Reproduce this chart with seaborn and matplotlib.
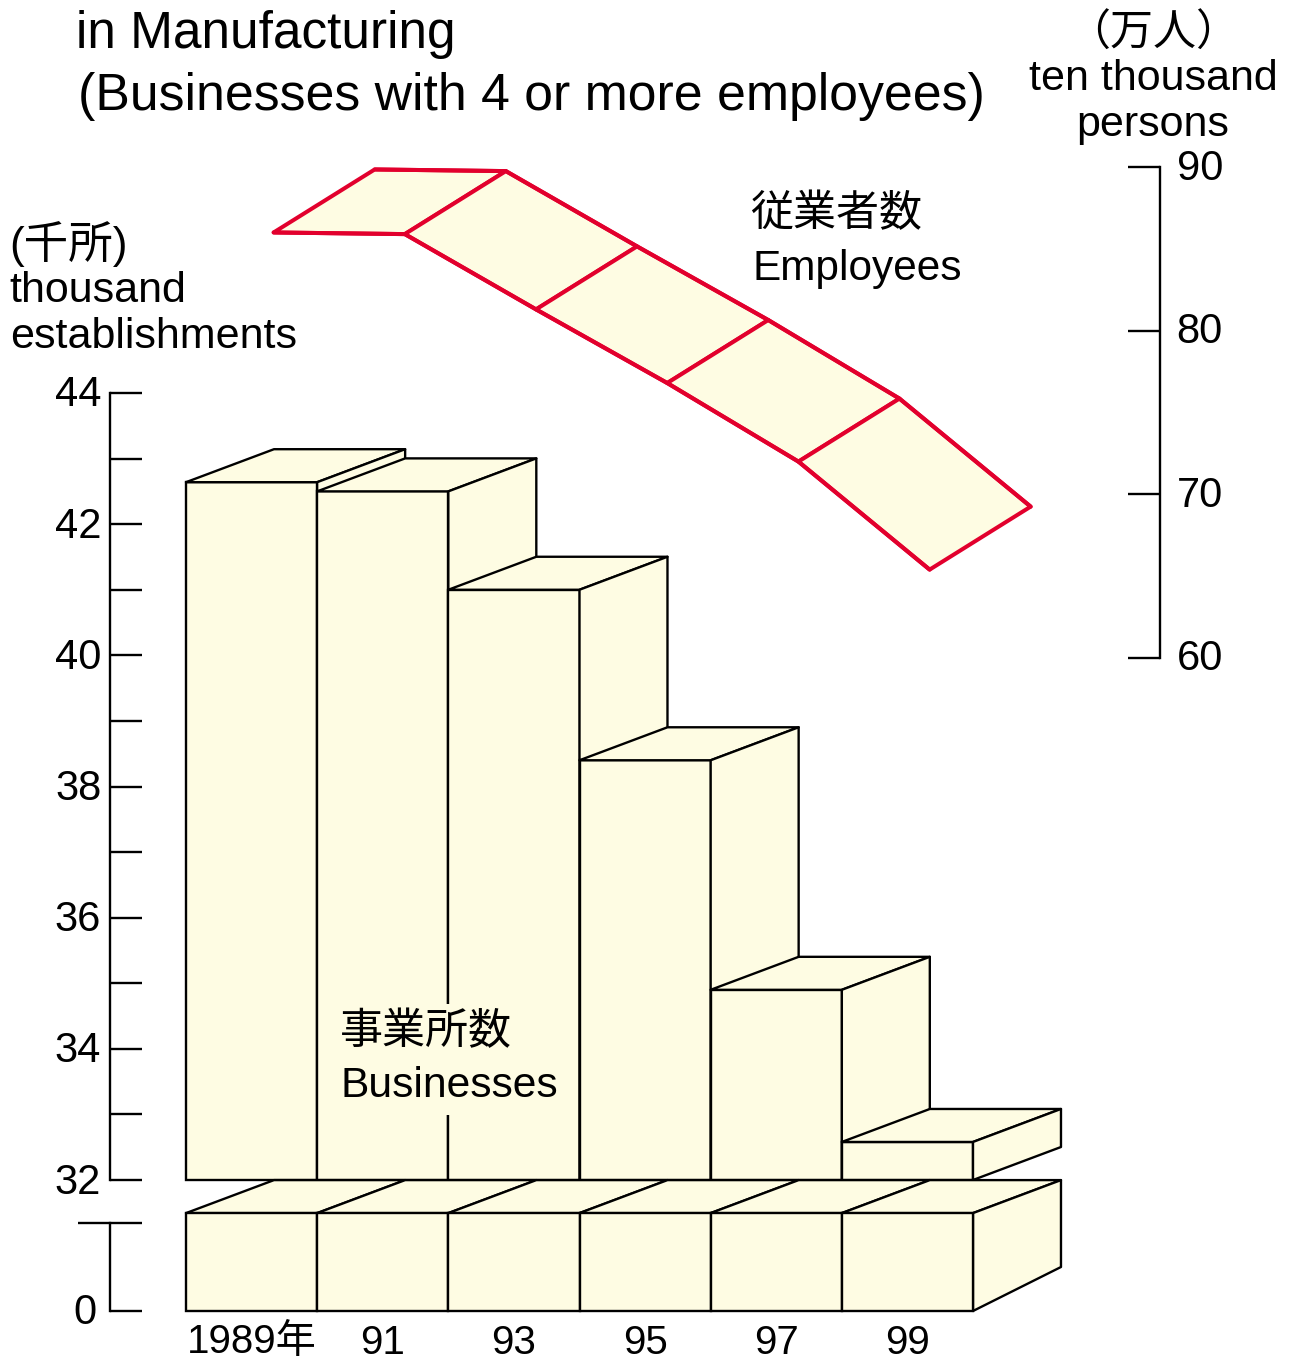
import matplotlib
matplotlib.use('Agg')
import matplotlib.pyplot as plt
from matplotlib.transforms import ScaledTranslation
import seaborn as sns
import pandas as pd

# values
years = ['1989年', '91', '93', '95', '97', '99']
businesses = [42.64, 42.5, 41.0, 38.4, 34.9, 32.58]
employees = [86.0, 85.9, 81.3, 76.8, 72.0, 65.4]
left_ticks = [32, 33, 34, 35, 36, 37, 38, 39, 40, 41, 42, 43, 44]
left_labels = ['32', '', '34', '', '36', '', '38', '', '40', '', '42', '', '44']
right_ticks = [60, 70, 80, 90]

W, H = 1290, 1361
CREAM = '#FEFCE3'
RED = '#E2002D'
LW = 1.7
RLW = 2.9
FONTS = ['Liberation Sans', 'Noto Sans CJK JP']

sns.set_theme(style='white')
plt.rcParams['font.family'] = FONTS
plt.rcParams['axes.unicode_minus'] = False

fig = plt.figure(figsize=(W / 100, H / 100), dpi=100, facecolor='white')


def px_axes(x0, y0, x1, y1):
    ax = fig.add_axes([x0 / W, 1 - y1 / H, (x1 - x0) / W, (y1 - y0) / H])
    ax.patch.set_alpha(0)
    for s in ax.spines.values():
        s.set_visible(False)
    return ax


def put(txt, x, y, size, **kw):
    # x, y in pixels, baseline anchored
    return fig.text(x / W, 1 - y / H, txt, fontsize=size, color='black', va='baseline', **kw)


def nudge(label, x_px, y_px):
    label.set_transform(label.get_transform() + ScaledTranslation(x_px / 100, y_px / 100, fig.dpi_scale_trans))


def draw_bars(ax, values):
    df = pd.DataFrame({'year': years, 'value': values})
    sns.barplot(data=df, x='year', y='value', ax=ax, color=CREAM, saturation=1,
                width=1, edgecolor='black', linewidth=LW)
    ax.set_xlim(-0.5, 5.5)
    ax.set_xlabel('')
    ax.set_ylabel('')


def style_spine(ax, side, outward=0):
    ax.spines[side].set_visible(True)
    ax.spines[side].set_linewidth(LW)
    ax.spines[side].set_color('black')
    if outward:
        ax.spines[side].set_position(('outward', outward))


# upper bars, 32 to 44 on the left scale
ax = px_axes(186, 393, 973, 1180)
draw_bars(ax, businesses)
ax.set_ylim(32, 44)
dx, dy = 88 / 131.2, 33 / 65.6
for i, (p, v) in enumerate(zip(ax.patches[:6], businesses)):
    z = 3 + i
    # bars start at the axis floor, not at zero
    p.set_y(32)
    p.set_height(v - 32)
    p.set_clip_on(False)
    p.set_zorder(z)
    l, r = i - 0.5, i + 0.5
    ax.fill([l, r, r + dx, l + dx], [v, v, v + dy, v + dy], facecolor=CREAM,
            edgecolor='black', lw=LW, clip_on=False, zorder=z, joinstyle='round')
    ax.fill([r, r + dx, r + dx, r], [v, v + dy, 32 + dy, 32], facecolor=CREAM,
            edgecolor='black', lw=LW, clip_on=False, zorder=z, joinstyle='round')
style_spine(ax, 'left', 76 * 0.72)
ax.set_yticks(left_ticks)
ax.set_yticklabels(left_labels)
ax.tick_params(axis='y', left=True, direction='in', length=32 * 0.72, width=LW,
               color='black', labelsize=30, labelcolor='black', pad=7)
ax.tick_params(axis='x', bottom=False, labelbottom=False)
for lbl in ax.get_yticklabels():
    nudge(lbl, 1, 2)

# base block below the axis break
base = px_axes(186, 1223, 973, 1311)
base_height = [35.6] * 6
draw_bars(base, base_height)
base.set_ylim(0, 32)
ux = 88 / 131.2
top_d, side_d = 33 * 32 / 88, 44 * 32 / 88
for p in base.patches[:6]:
    p.set_clip_on(False)
    p.set_zorder(3)
h = base_height[0]
for i in range(6):
    l, r = i - 0.5, i + 0.5
    base.fill([l, r, r + ux, l + ux], [h, h, h + top_d, h + top_d], facecolor=CREAM,
              edgecolor='black', lw=LW, clip_on=False, zorder=2, joinstyle='round')
base.fill([5.5, 5.5 + ux, 5.5 + ux, 5.5], [h, h + top_d, side_d, 0], facecolor=CREAM,
          edgecolor='black', lw=LW, clip_on=False, zorder=2, joinstyle='round')
style_spine(base, 'left', 76 * 0.72)
base.yaxis.remove_overlapping_locs = False
base.set_yticks([0, 32])
base.set_yticklabels(['0', ''])
base.set_yticks([32], minor=True)
base.tick_params(axis='y', which='major', left=True, direction='in', length=32 * 0.72,
                 width=LW, color='black', labelsize=30, labelcolor='black', pad=7)
base.tick_params(axis='y', which='minor', left=True, direction='out', length=32 * 0.72,
                 width=LW, color='black')
base.tick_params(axis='x', bottom=False, labelsize=29, labelcolor='black', pad=3)
nudge(base.get_yticklabels()[0], -4, 3)

# employees ribbon on the right scale
right = px_axes(186, 167, 1160, 658)
right.set_xlim(-0.5, -0.5 + (1160 - 186) / 131.2)
right.set_ylim(60, 90)
node_x = [i + 0.168 for i in range(len(employees))]
rx, ry = 0.77, 63 / (491 / 30)
back_x = [x + rx for x in node_x]
back_y = [v + ry for v in employees]
for i in range(len(employees) - 1):
    right.fill([node_x[i], node_x[i + 1], back_x[i + 1], back_x[i]],
               [employees[i], employees[i + 1], back_y[i + 1], back_y[i]],
               facecolor=CREAM, edgecolor=RED, lw=RLW, clip_on=False, zorder=3, joinstyle='round')
sns.lineplot(x=node_x, y=employees, ax=right, color=RED, lw=RLW, zorder=4, solid_joinstyle='round')
sns.lineplot(x=back_x, y=back_y, ax=right, color=RED, lw=RLW, zorder=4, solid_joinstyle='round')
for line in right.lines:
    line.set_clip_on(False)
right.set_xticks([])
style_spine(right, 'right')
right.yaxis.tick_right()
right.set_yticks(right_ticks)
right.tick_params(axis='y', right=True, left=False, direction='in', length=32 * 0.72,
                  width=LW, color='black', labelsize=30, labelcolor='black', pad=12)
for lbl in right.get_yticklabels():
    nudge(lbl, 0, 3)

# title and unit labels
put('in Manufacturing', 76, 48, 37)
put('(Businesses with 4 or more employees)', 78, 110, 37.3)
put('(千所)', 9, 258, 32)
put('thousand', 9, 302, 31)
put('establishments', 10, 348, 31)
put('（万人）', 1153, 46, 31, ha='center')
put('ten thousand', 1153, 90, 31, ha='center')
put('persons', 1153, 136, 31, ha='center')
put('従業者数', 750, 226, 31)
put('Employees', 752, 280, 30.5)

# this label sits on the bars, the cream box cuts the divider line
box = dict(facecolor=CREAM, edgecolor='none', pad=6)
t1 = put('事業所数', 340, 1044, 31, zorder=20)
t2 = put('Businesses', 341, 1097, 30.7, zorder=20)
t1.set_bbox(box)
t2.set_bbox(box)

fig.savefig('out.png', dpi=100)
